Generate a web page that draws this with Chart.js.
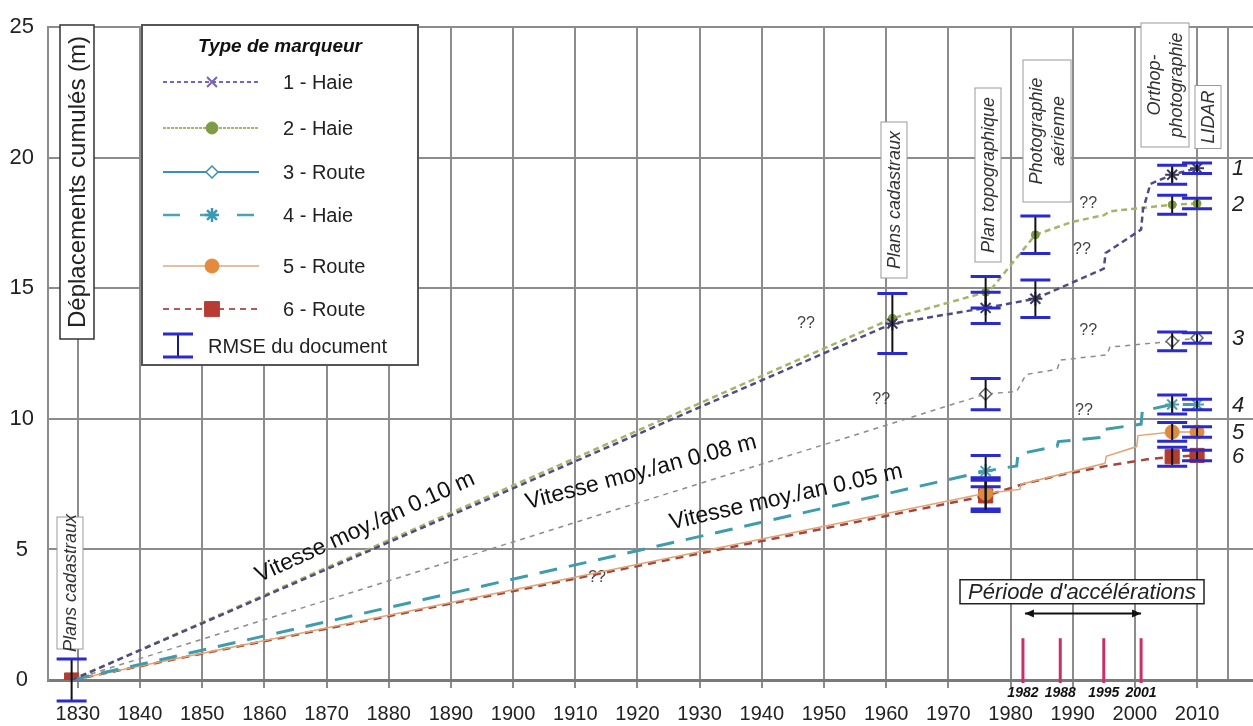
<!DOCTYPE html>
<html>
<head>
<meta charset="utf-8">
<script src="https://cdn.jsdelivr.net/npm/chart.js@4.4.1/dist/chart.umd.min.js"></script>
<style>
  html, body { margin: 0; padding: 0; background: #fff; overflow: hidden; }
  #wrap { width: 1253px; height: 726px; }
  canvas { display: block; }
</style>
</head>
<body>
<div id="wrap"><canvas id="dispChart" width="1253" height="726"></canvas></div>
<script>
const FONT = '"Liberation Sans", Arial, sans-serif';

// graduations
const xTicks = [1830, 1840, 1850, 1860, 1870, 1880, 1890, 1900, 1910, 1920,
  1930, 1940, 1950, 1960, 1970, 1980, 1990, 2000, 2010, 2015];
const yMin = 0;
const yMax = 25;

// déplacements cumulés (m) par marqueur
const s1Years = [1829, 1961, 1976, 1984, 1995, 1995.3, 2001, 2001.3, 2002.5, 2006, 2010];
const s1Disp = [0, 13.65, 14.25, 14.6, 15.75, 16.35, 17.25, 18.0, 19.0, 19.35, 19.6];
const s2Years = [1829, 1961, 1976, 1977, 1984, 1990, 1995, 1996, 2006, 2010];
const s2Disp = [0, 13.85, 14.85, 15.0, 17.05, 17.55, 17.8, 17.95, 18.2, 18.25];
const s3Years = [1829, 1976, 1981, 1982.5, 1987.5, 1988, 1995.5, 1996, 2006, 2010];
const s3Disp = [0, 10.95, 11.05, 11.7, 11.9, 12.25, 12.45, 12.75, 12.97, 13.1];
const s4Years = [1829, 1976, 1981, 1981.2, 1987.5, 1987.7, 1995, 1995.2, 2001, 2001.2, 2006, 2010];
const s4Disp = [0, 8.0, 8.2, 8.65, 8.95, 9.13, 9.3, 9.6, 9.8, 10.3, 10.55, 10.55];
const s5Years = [1829, 1976, 1981.5, 1981.7, 1995.2, 1995.4, 2000.3, 2000.5, 2006, 2010];
const s5Disp = [0, 7.15, 7.3, 7.5, 8.3, 8.57, 8.94, 9.36, 9.5, 9.5];
const s6Years = [1829, 1976, 1982, 1988, 1995.5, 2002, 2006, 2010];
const s6Disp = [0, 7.05, 7.5, 7.85, 8.2, 8.45, 8.55, 8.6];

// années mesurées (marqueurs) et barres RMSE
const s1Marks = [1961, 1976, 1984, 2006, 2010];
const s2Marks = [1961, 1976, 1984, 2006, 2010];
const s3Marks = [1976, 2006, 2010];
const s4Marks = [1976, 2006, 2010];
const s5Marks = [1976, 2006, 2010];
const s6Marks = [1829, 1976, 2006, 2010];

const s1Bars = [1829, 1961, 1976, 1984, 2006, 2010];
const s2Bars = [1976, 1984, 2006, 2010];
const s3Bars = [1976, 2006, 2010];
const s4Bars = [1976, 2006, 2010];
const s5Bars = [1976, 2006, 2010];
const s6Bars = [1976, 2006, 2010];

const docYears = [1829, 1961, 1976, 1984, 2006, 2010];
const docRmse = [0.8, 1.15, 0.6, 0.72, 0.36, 0.2];

// période d'accélérations
const accelYears = [1982, 1988, 1995, 2001];

// "??"
const unknownYears = [1947.1, 1959.2, 1913.5, 1992.5, 1991.5, 1992.5, 1991.8];
const unknownDisp = [13.66, 10.75, 3.92, 18.23, 16.5, 13.4, 10.3];

const seriesNames = ['1 - Haie', '2 - Haie', '3 - Route', '4 - Haie', '5 - Route', '6 - Route'];
const seriesYears = [s1Years, s2Years, s3Years, s4Years, s5Years, s6Years];
const seriesDisp = [s1Disp, s2Disp, s3Disp, s4Disp, s5Disp, s6Disp];
const seriesMarks = [s1Marks, s2Marks, s3Marks, s4Marks, s5Marks, s6Marks];
const seriesBars = [s1Bars, s2Bars, s3Bars, s4Bars, s5Bars, s6Bars];

const plotStyles = [
  { color: '#4e4c86', width: 2.5, dash: [6, 4], style: 'star', fill: '#3a3a60', stroke: '#3a3a60', radius: 7, pw: 2 },
  { color: '#a6b46a', width: 2.5, dash: [6, 4], style: 'circle', fill: '#7e9a40', stroke: '#7e9a40', radius: 4, pw: 1 },
  { color: '#8c8c8c', width: 1.5, dash: [5, 5], style: 'rectRot', fill: '#ffffff', stroke: '#666666', radius: 6, pw: 1.5 },
  { color: '#3e9cab', width: 3, dash: [18, 12], style: 'star', fill: '#4aa2b2', stroke: '#4aa2b2', radius: 7, pw: 2 },
  { color: '#e2a474', width: 1.5, dash: [], style: 'circle', fill: '#e08a3c', stroke: '#e08a3c', radius: 7, pw: 1 },
  { color: '#a2463e', width: 2.5, dash: [8, 6], style: 'rect', fill: '#b03c32', stroke: '#b03c32', radius: 10, pw: 1 }
];

const legendStyles = [
  { color: '#7b62b5', width: 2, dash: [4, 3], style: 'crossRot', fill: '#7b62b5', stroke: '#7b62b5', radius: 7, pw: 2 },
  { color: '#a5b570', width: 2, dash: [3, 1], style: 'circle', fill: '#7f9c45', stroke: '#7f9c45', radius: 6, pw: 1 },
  { color: '#3f8fb5', width: 2, dash: [], style: 'rectRot', fill: '#ffffff', stroke: '#3f8fb5', radius: 6, pw: 1.5 },
  { color: '#4aa3b8', width: 2.5, dash: [17, 20], style: 'star', fill: '#3a9ab2', stroke: '#3a9ab2', radius: 7, pw: 2.5 },
  { color: '#d8aa80', width: 1.5, dash: [], style: 'circle', fill: '#e48a3c', stroke: '#e48a3c', radius: 7, pw: 1 },
  { color: '#b55a5a', width: 2, dash: [6, 5], style: 'rect', fill: '#b83c34', stroke: '#b83c34', radius: 10.5, pw: 1 }
];

function makeSeries(i) {
  const st = plotStyles[i];
  const marks = seriesMarks[i];
  return {
    label: seriesNames[i],
    data: seriesYears[i].map((x, k) => ({ x, y: seriesDisp[i][k] })),
    borderColor: st.color,
    borderWidth: st.width,
    borderDash: st.dash,
    pointStyle: st.style,
    pointRadius: (c) => (c.raw && marks.includes(c.raw.x) ? st.radius : 0),
    pointBackgroundColor: st.fill,
    pointBorderColor: st.stroke,
    pointBorderWidth: st.pw,
    tension: 0,
    fill: false,
  };
}

function vertBox(ctx, cx, cy, len, lines, size, lineH, italic) {
  ctx.save();
  ctx.translate(cx, cy);
  ctx.rotate(-Math.PI / 2);
  const thick = lines.length * lineH + 4;
  ctx.fillStyle = '#fff';
  ctx.fillRect(-len / 2, -thick / 2, len, thick);
  ctx.strokeStyle = '#9a9a9a';
  ctx.lineWidth = 1;
  ctx.strokeRect(-len / 2, -thick / 2, len, thick);
  ctx.fillStyle = '#333';
  ctx.font = (italic ? 'italic ' : '') + size + 'px ' + FONT;
  ctx.textAlign = 'center';
  ctx.textBaseline = 'middle';
  lines.forEach((t, k) => {
    ctx.fillText(t, 0, -thick / 2 + 2 + lineH * (k + 0.5) + 1);
  });
  ctx.restore();
}

// boîtes des documents (position en pixels, mise en page)
const docBoxes = [
  { cx: 70, cy: 583, len: 132, lines: ['Plans cadastraux'] },
  { cx: 894, cy: 200, len: 156, lines: ['Plans cadastraux'] },
  { cx: 988, cy: 175, len: 174, lines: ['Plan topographique'] },
  { cx: 1047, cy: 131, len: 142, lines: ['Photographie', 'aérienne'] },
  { cx: 1165, cy: 85, len: 124, lines: ['Orthop-', 'photographie'] },
  { cx: 1208, cy: 117, len: 63, lines: ['LIDAR'] }
];

const speedLabels = [
  { text: 'Vitesse moy./an 0.10 m', year: 1876.2, disp: 5.85, angle: -24.5 },
  { text: 'Vitesse moy./an 0.08 m', year: 1920.6, disp: 7.95, angle: -15 },
  { text: 'Vitesse moy./an 0.05 m', year: 1943.9, disp: 7.0, angle: -12.6 }
];

const decor = {
  id: 'decor',
  beforeDatasetsDraw(chart) {
    const { ctx, scales: { x, y } } = chart;

    // titre de l'axe Y dans sa boîte
    ctx.save();
    ctx.translate(77, 182);
    ctx.rotate(-Math.PI / 2);
    ctx.fillStyle = '#fff';
    ctx.fillRect(-157, -17, 314, 34);
    ctx.strokeStyle = '#333';
    ctx.lineWidth = 1.5;
    ctx.strokeRect(-157, -17, 314, 34);
    ctx.fillStyle = '#222';
    ctx.font = '24px ' + FONT;
    ctx.textAlign = 'center';
    ctx.textBaseline = 'middle';
    ctx.fillText('Déplacements cumulés (m)', 0, 1);
    ctx.restore();

    docBoxes.forEach((b) => vertBox(ctx, b.cx, b.cy, b.len, b.lines, 18, 22, true));

    // ??
    ctx.save();
    ctx.fillStyle = '#444';
    ctx.font = '16px ' + FONT;
    ctx.textAlign = 'center';
    ctx.textBaseline = 'middle';
    unknownYears.forEach((yr, k) => {
      ctx.fillText('??', x.getPixelForValue(yr), y.getPixelForValue(unknownDisp[k]));
    });
    ctx.restore();

    // période d'accélérations
    const a0 = x.getPixelForValue(accelYears[0]);
    const a1 = x.getPixelForValue(accelYears[accelYears.length - 1]);
    const ay = y.getPixelForValue(2.55);
    const mid = (a0 + a1) / 2;
    const by = y.getPixelForValue(3.38);
    ctx.save();
    ctx.font = 'italic 22px ' + FONT;
    const tw = ctx.measureText("Période d'accélérations").width;
    ctx.fillStyle = '#fff';
    ctx.fillRect(mid - tw / 2 - 8, by - 12, tw + 16, 24);
    ctx.strokeStyle = '#222';
    ctx.lineWidth = 1.5;
    ctx.strokeRect(mid - tw / 2 - 8, by - 12, tw + 16, 24);
    ctx.fillStyle = '#222';
    ctx.textAlign = 'center';
    ctx.textBaseline = 'middle';
    ctx.fillText("Période d'accélérations", mid, by + 1);
    ctx.strokeStyle = '#111';
    ctx.lineWidth = 2;
    ctx.beginPath();
    ctx.moveTo(a0 + 2, ay);
    ctx.lineTo(a1, ay);
    ctx.stroke();
    ctx.fillStyle = '#111';
    [[a0 + 2, 1], [a1, -1]].forEach(([px, d]) => {
      ctx.beginPath();
      ctx.moveTo(px, ay);
      ctx.lineTo(px + d * 9, ay - 4);
      ctx.lineTo(px + d * 9, ay + 4);
      ctx.closePath();
      ctx.fill();
    });
    ctx.restore();
  },
  afterDatasetsDraw(chart) {
    const { ctx, scales: { x, y } } = chart;

    // barres RMSE
    ctx.save();
    seriesBars.forEach((bars, i) => {
      bars.forEach((yr) => {
        const v = seriesDisp[i][seriesYears[i].indexOf(yr)];
        const r = docRmse[docYears.indexOf(yr)];
        const px = x.getPixelForValue(yr);
        const top = y.getPixelForValue(v + r);
        const bot = y.getPixelForValue(v - r);
        ctx.strokeStyle = '#111';
        ctx.lineWidth = 2;
        ctx.beginPath();
        ctx.moveTo(px, top);
        ctx.lineTo(px, bot);
        ctx.stroke();
        ctx.strokeStyle = '#2a2ad0';
        ctx.lineWidth = 3;
        ctx.beginPath();
        ctx.moveTo(px - 15, top);
        ctx.lineTo(px + 15, top);
        ctx.moveTo(px - 15, bot);
        ctx.lineTo(px + 15, bot);
        ctx.stroke();
      });
    });
    ctx.restore();

    // barres d'accélération
    ctx.save();
    ctx.strokeStyle = '#c8306a';
    ctx.lineWidth = 3;
    ctx.fillStyle = '#111';
    ctx.font = 'bold italic 14px ' + FONT;
    ctx.textAlign = 'center';
    ctx.textBaseline = 'middle';
    accelYears.forEach((yr) => {
      const px = x.getPixelForValue(yr);
      ctx.beginPath();
      ctx.moveTo(px, y.getPixelForValue(1.6));
      ctx.lineTo(px, y.getPixelForValue(0) + 3);
      ctx.stroke();
      ctx.fillText(String(yr), px, y.getPixelForValue(0) + 13);
    });
    ctx.restore();

    // vitesses moyennes
    ctx.save();
    ctx.fillStyle = '#111';
    ctx.font = '23px ' + FONT;
    ctx.textAlign = 'center';
    ctx.textBaseline = 'middle';
    speedLabels.forEach((s) => {
      ctx.save();
      ctx.translate(x.getPixelForValue(s.year), y.getPixelForValue(s.disp));
      ctx.rotate(s.angle * Math.PI / 180);
      ctx.fillText(s.text, 0, 0);
      ctx.restore();
    });
    ctx.restore();

    // numéros à droite
    ctx.save();
    ctx.fillStyle = '#222';
    ctx.font = 'italic 22px ' + FONT;
    ctx.textAlign = 'center';
    ctx.textBaseline = 'middle';
    seriesYears.forEach((yrs, i) => {
      const last = yrs.length - 1;
      ctx.fillText(String(i + 1), x.getPixelForValue(yrs[last]) + 41, y.getPixelForValue(seriesDisp[i][last]) + 1);
    });
    ctx.restore();

    drawLegend(ctx);
  }
};

function drawLegend(ctx) {
  const rowY = [82, 128, 172, 215, 266, 309];
  ctx.save();
  ctx.fillStyle = '#fff';
  ctx.fillRect(142, 25, 276, 340);
  ctx.strokeStyle = '#555';
  ctx.lineWidth = 2;
  ctx.strokeRect(142, 25, 276, 340);

  ctx.fillStyle = '#111';
  ctx.font = 'bold italic 19px ' + FONT;
  ctx.textAlign = 'center';
  ctx.textBaseline = 'middle';
  ctx.fillText('Type de marqueur', 280, 47);

  ctx.font = '20px ' + FONT;
  ctx.textAlign = 'left';
  legendStyles.forEach((st, k) => {
    const yy = rowY[k];
    ctx.save();
    ctx.strokeStyle = st.color;
    ctx.lineWidth = st.width;
    ctx.setLineDash(st.dash);
    ctx.beginPath();
    ctx.moveTo(163, yy);
    ctx.lineTo(259, yy);
    ctx.stroke();
    ctx.setLineDash([]);
    ctx.fillStyle = st.fill;
    ctx.strokeStyle = st.stroke;
    ctx.lineWidth = st.pw;
    Chart.helpers.drawPoint(ctx, { pointStyle: st.style, radius: st.radius, rotation: 0, borderWidth: st.pw }, 212, yy);
    ctx.restore();
    ctx.fillStyle = '#222';
    ctx.fillText(seriesNames[k], 283, yy + 1);
  });

  // symbole RMSE
  ctx.strokeStyle = '#1a1a80';
  ctx.lineWidth = 2;
  ctx.beginPath();
  ctx.moveTo(178, 334);
  ctx.lineTo(178, 357);
  ctx.stroke();
  ctx.strokeStyle = '#2a2ad0';
  ctx.lineWidth = 3;
  ctx.beginPath();
  ctx.moveTo(163, 334);
  ctx.lineTo(193, 334);
  ctx.moveTo(163, 357);
  ctx.lineTo(193, 357);
  ctx.stroke();
  ctx.fillStyle = '#222';
  ctx.fillText('RMSE du document', 208, 347);
  ctx.restore();
}

new Chart(document.getElementById('dispChart').getContext('2d'), {
  type: 'line',
  data: {
    datasets: [0, 1, 2, 3, 4, 5].map(makeSeries),
  },
  options: {
    responsive: false,
    devicePixelRatio: 1,
    animation: false,
    layout: { autoPadding: false, padding: { top: 18, left: 0, right: 0, bottom: 0 } },
    plugins: {
      legend: { display: false },
      tooltip: { enabled: false },
    },
    scales: {
      x: {
        type: 'linear',
        min: 1825.2,
        max: 2019,
        afterBuildTicks: (scale) => {
          scale.ticks = xTicks.map((v) => ({ value: v }));
        },
        afterFit: (scale) => {
          scale.height = 46;
          scale.paddingLeft = 0;
          scale.paddingRight = 0;
        },
        ticks: {
          autoSkip: false,
          maxRotation: 0,
          padding: 14,
          color: '#222',
          font: { family: FONT, size: 20 },
          callback: (v) => (v === 2015 ? '' : String(v)),
        },
        grid: {
          color: '#8c8c8c',
          lineWidth: 2,
          tickLength: 8,
          tickColor: (c) => (c.tick && c.tick.value === 2015 ? 'rgba(0,0,0,0)' : '#8c8c8c'),
        },
        border: { display: true, color: '#7a7a7a', width: 3 },
      },
      y: {
        min: yMin,
        max: yMax,
        afterFit: (scale) => {
          scale.width = 48;
        },
        ticks: {
          stepSize: 5,
          padding: 14,
          crossAlign: 'center',
          color: '#222',
          font: { family: FONT, size: 22 },
        },
        grid: {
          color: '#8c8c8c',
          lineWidth: 2,
          drawTicks: false,
        },
        border: { display: true, color: '#8c8c8c', width: 2 },
      },
    },
  },
  plugins: [decor],
});
</script>
</body>
</html>
